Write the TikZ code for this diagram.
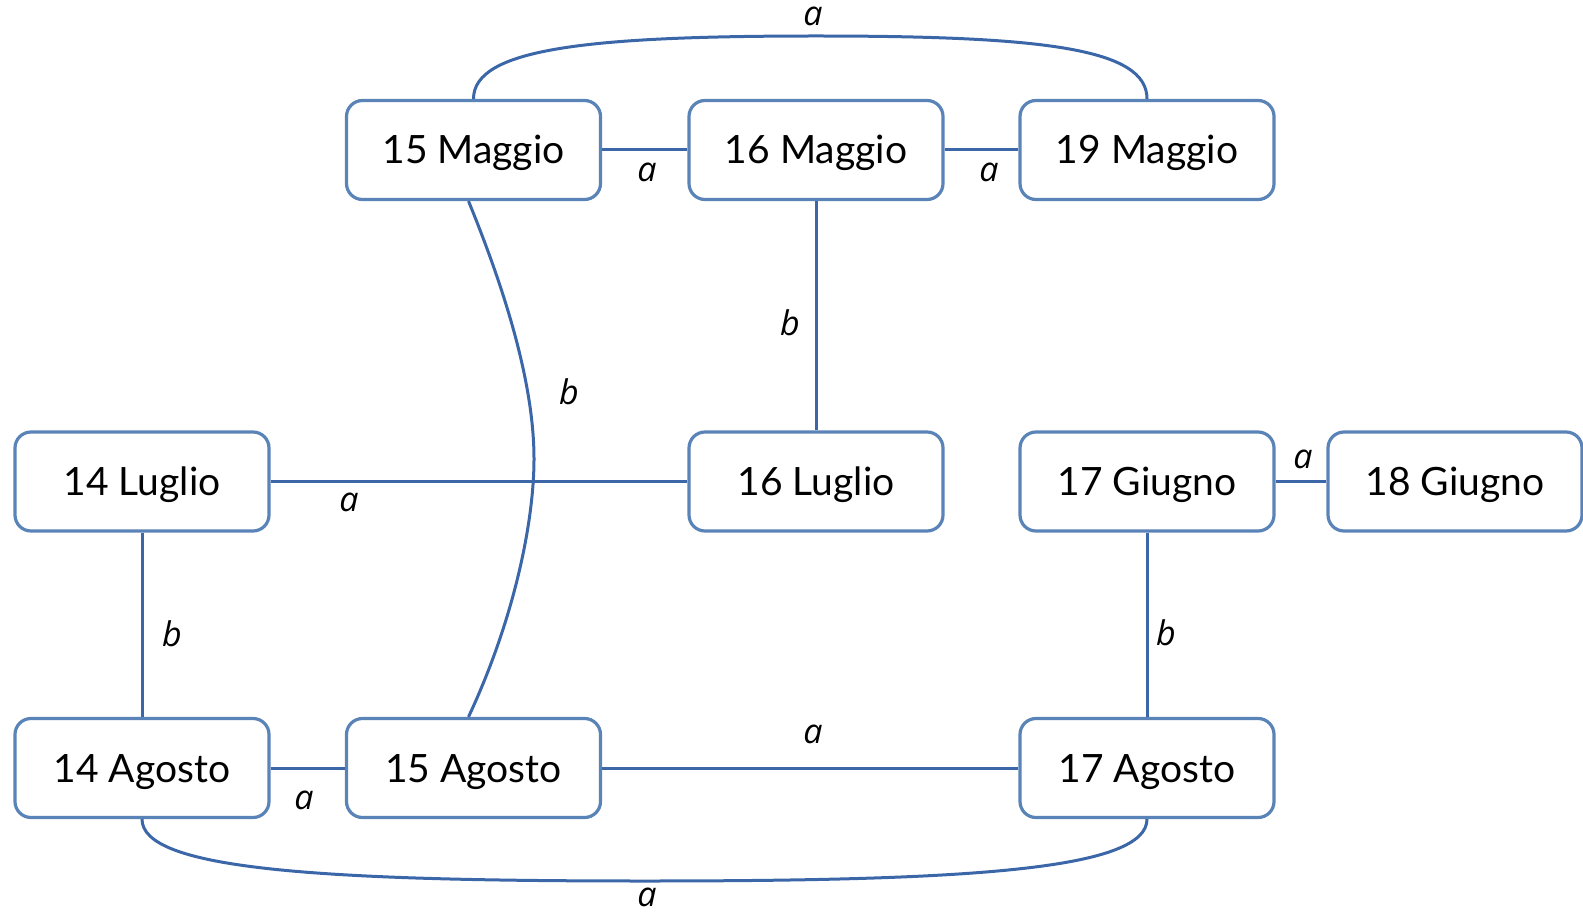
\documentclass[tikz,border=0pt]{standalone}
\usepackage{fontspec}
\setmainfont{Lato}
\newfontfamily\labfont{Open Sans}
\definecolor{linec}{HTML}{3B67A8}
\definecolor{boxc}{HTML}{5A84B8}
\begin{document}
\begin{tikzpicture}[x=0.5pt,y=-0.5pt,
  box/.style={draw=boxc, line width=1.6pt, rounded corners=8pt, fill=white,
    minimum width=127pt, minimum height=49.5pt, inner sep=0pt,
    text height=14pt, text depth=0pt,
    font=\fontsize{19.5}{22}\selectfont, text=black},
  conn/.style={draw=linec, line width=1.5pt},
  lab/.style={font=\labfont\itshape\fontsize{17}{20}\selectfont, inner sep=0pt, text=black}]
\useasboundingbox (0,0) rectangle (1583,914);
% nodes
\node[box] (m15) at (473.5,150) {15 Maggio};
\node[box] (m16) at (816,150) {16 Maggio};
\node[box] (m19) at (1147,150) {19 Maggio};
\node[box] (l14) at (142,481.5) {14 Luglio};
\node[box] (l16) at (816,481.5) {16 Luglio};
\node[box] (g17) at (1147,481.5) {17 Giugno};
\node[box] (g18) at (1455,481.5) {18 Giugno};
\node[box] (a14) at (142,768) {14 Agosto};
\node[box] (a15) at (473.5,768) {15 Agosto};
\node[box] (a17) at (1147,768) {17 Agosto};
% helper coordinates
\coordinate (topmid) at (816,36);
\coordinate (botmid) at (645,881);
\coordinate (vmid) at (534,459);
% connectors
\draw[conn] (m15) -- (m16);
\draw[conn] (m16) -- (m19);
\draw[conn] (m15.north) .. controls +(0,-50) and +(-230,0) .. (topmid)
  .. controls +(230,0) and +(0,-50) .. (m19.north);
\draw[conn] (m16) -- (l16);
\draw[conn] ([xshift=-2.5pt]m15.south) .. controls +(41.5,101.5) and +(0,-69) .. (vmid)
  .. controls +(0,61) and +(46.5,-99.5) .. ([xshift=-2.5pt]a15.north);
\draw[conn] (l14) -- (l16);
\draw[conn] (l14) -- (a14);
\draw[conn] (a14) -- (a15);
\draw[conn] (a15) -- (a17);
\draw[conn] (g17) -- (a17);
\draw[conn] (g17) -- (g18);
\draw[conn] (a14.south) .. controls +(0,50) and +(-330,0) .. (botmid)
  .. controls +(330,0) and +(0,50) .. (a17.south);
% labels
\node[lab] (t1) at (647,172) {a};
\node[lab] (t2) at (989,172) {a};
\node[lab] (t3) at (813,16) {a};
\node[lab] (t4) at (790,323) {b};
\node[lab] (t5) at (569,392) {b};
\node[lab] (t6) at (349,502) {a};
\node[lab] (t7) at (172,634) {b};
\node[lab] (t8) at (304,800) {a};
\node[lab] (t9) at (813,734) {a};
\node[lab] (t10) at (1166,633) {b};
\node[lab] (t11) at (1303,459) {a};
\node[lab] (t12) at (647,897) {a};
\end{tikzpicture}
\end{document}
